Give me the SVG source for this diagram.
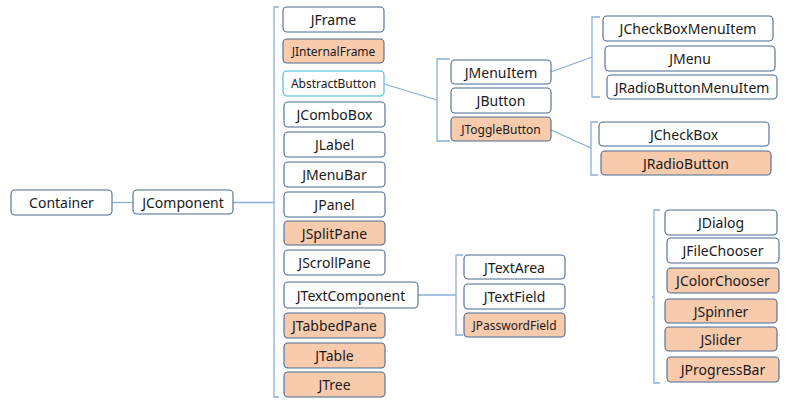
<svg xmlns="http://www.w3.org/2000/svg" width="802" height="403" viewBox="0 0 802 403">
<style>
.n rect{fill:#fff;stroke:#4a6a92;stroke-width:1.1}
.o rect{fill:#f8cbad}
.ab rect{stroke:#3fb8d8}
text{font-family:"Noto Sans","Open Sans",sans-serif;font-size:14px;fill:#1a1a1a;text-anchor:middle;dominant-baseline:central}
.s text{font-size:12px}
#connectors path{fill:none;stroke:#8aafd8;stroke-width:1.3}
</style>
<rect width="802" height="403" fill="#fff"/>
<g id="connectors">
<path d="M112,202.5H133"/>
<path d="M233,202.5H274"/>
<path d="M279,7H274V397H279"/>
<path d="M384,84L437,100"/>
<path d="M450,59H437V141H450"/>
<path d="M551,72L592,57"/>
<path d="M600,17H592V97H600"/>
<path d="M551,130L591,148"/>
<path d="M598,122H591V175H598"/>
<path d="M418,295H456"/>
<path d="M463,255H456V335H463"/>
<path d="M660,210H654V383H660"/>
<path d="M652,297H654"/>
</g>
<g id="Container" class="n"><rect x="11" y="190" width="101" height="25" rx="4"/><text x="61.5" y="202.5">Container</text></g>
<g id="JComponent" class="n"><rect x="133" y="190" width="100" height="24" rx="4"/><text x="183" y="202">JComponent</text></g>
<g id="JFrame" class="n"><rect x="283" y="7" width="101" height="25" rx="4"/><text x="333.5" y="19.5">JFrame</text></g>
<g id="JInternalFrame" class="n o s"><rect x="283" y="39" width="101" height="24" rx="4"/><text x="333.5" y="51">JInternalFrame</text></g>
<g id="AbstractButton" class="n ab s"><rect x="283" y="71" width="101" height="25" rx="4"/><text x="333.5" y="83.5">AbstractButton</text></g>
<g id="JComboBox" class="n"><rect x="284" y="102" width="101" height="25" rx="4"/><text x="334.5" y="114.5">JComboBox</text></g>
<g id="JLabel" class="n"><rect x="284" y="132" width="101" height="25" rx="4"/><text x="334.5" y="144.5">JLabel</text></g>
<g id="JMenuBar" class="n"><rect x="284" y="162" width="101" height="25" rx="4"/><text x="334.5" y="174.5">JMenuBar</text></g>
<g id="JPanel" class="n"><rect x="284" y="192" width="101" height="25" rx="4"/><text x="334.5" y="204.5">JPanel</text></g>
<g id="JSplitPane" class="n o"><rect x="284" y="221" width="101" height="24" rx="4"/><text x="334.5" y="233">JSplitPane</text></g>
<g id="JScrollPane" class="n"><rect x="284" y="250" width="101" height="25" rx="4"/><text x="334.5" y="262.5">JScrollPane</text></g>
<g id="JTextComponent" class="n"><rect x="284" y="282" width="134" height="26" rx="4"/><text x="351" y="295">JTextComponent</text></g>
<g id="JTabbedPane" class="n o"><rect x="284" y="313" width="101" height="25" rx="4"/><text x="334.5" y="325.5">JTabbedPane</text></g>
<g id="JTable" class="n o"><rect x="284" y="343" width="101" height="25" rx="4"/><text x="334.5" y="355.5">JTable</text></g>
<g id="JTree" class="n o"><rect x="284" y="372" width="101" height="25" rx="4"/><text x="334.5" y="384.5">JTree</text></g>
<g id="JMenuItem" class="n"><rect x="451" y="60" width="100" height="24" rx="4"/><text x="501" y="72">JMenuItem</text></g>
<g id="JButton" class="n"><rect x="451" y="88" width="100" height="25" rx="4"/><text x="501" y="100.5">JButton</text></g>
<g id="JToggleButton" class="n o s"><rect x="451" y="117" width="100" height="24" rx="4"/><text x="501" y="129">JToggleButton</text></g>
<g id="JCheckBoxMenuItem" class="n"><rect x="603" y="16" width="170" height="25" rx="4"/><text x="688" y="28.5">JCheckBoxMenuItem</text></g>
<g id="JMenu" class="n"><rect x="605" y="46" width="170" height="25" rx="4"/><text x="690" y="58.5">JMenu</text></g>
<g id="JRadioButtonMenuItem" class="n"><rect x="607" y="75" width="170" height="24" rx="4"/><text x="692" y="87">JRadioButtonMenuItem</text></g>
<g id="JCheckBox" class="n"><rect x="599" y="122" width="170" height="24" rx="4"/><text x="684" y="134">JCheckBox</text></g>
<g id="JRadioButton" class="n o"><rect x="601" y="151" width="170" height="24" rx="4"/><text x="686" y="163">JRadioButton</text></g>
<g id="JTextArea" class="n"><rect x="464" y="255" width="101" height="24" rx="4"/><text x="514.5" y="267">JTextArea</text></g>
<g id="JTextField" class="n"><rect x="464" y="284" width="101" height="25" rx="4"/><text x="514.5" y="296.5">JTextField</text></g>
<g id="JPasswordField" class="n o s"><rect x="464" y="313" width="101" height="24" rx="4"/><text x="514.5" y="325">JPasswordField</text></g>
<g id="JDialog" class="n"><rect x="665" y="210" width="112" height="25" rx="4"/><text x="721" y="222.5">JDialog</text></g>
<g id="JFileChooser" class="n"><rect x="667" y="238" width="112" height="25" rx="4"/><text x="723" y="250.5">JFileChooser</text></g>
<g id="JColorChooser" class="n o"><rect x="667" y="268" width="112" height="25" rx="4"/><text x="723" y="280.5">JColorChooser</text></g>
<g id="JSpinner" class="n o"><rect x="665" y="299" width="112" height="24" rx="4"/><text x="721" y="311">JSpinner</text></g>
<g id="JSlider" class="n o"><rect x="665" y="327" width="112" height="24" rx="4"/><text x="721" y="339">JSlider</text></g>
<g id="JProgressBar" class="n o"><rect x="667" y="357" width="112" height="25" rx="4"/><text x="723" y="369.5">JProgressBar</text></g>
</svg>
